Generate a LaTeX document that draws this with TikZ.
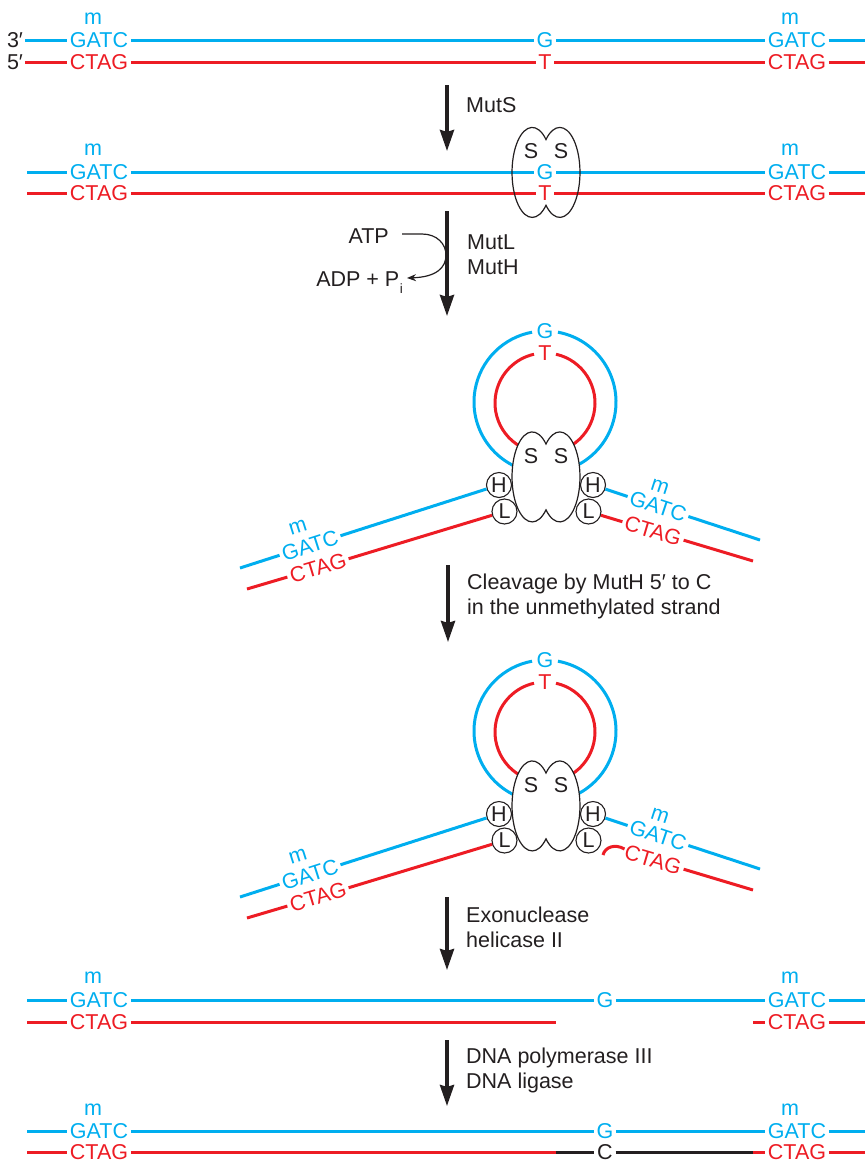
\documentclass[tikz,border=0pt]{standalone}
\usepackage{fontspec}
\setmainfont{Liberation Sans}
\usetikzlibrary{arrows.meta,calc}
\definecolor{dnablue}{RGB}{0,174,239}
\definecolor{dnared}{RGB}{237,28,36}
\definecolor{ink}{RGB}{35,31,32}

% mismatch loop held by MutS, with MutH/MutL on both arms (right red arm added separately)
\newcommand\mismatchloop{%
  \coordinate (loopc) at (545,402);
  \coordinate (loopr) at (545,403);
  \node[bt] (gl) at (545,331) {G};
  \node[rt] (tl) at (545,353) {T};
  \draw[strandB] ([shift={(-79.5:71)}]loopc) arc[start angle=-79.5, end angle=259.5, radius=71];
  \draw[strandR] ([shift={(-77.3:50)}]loopr) arc[start angle=-77.3, end angle=257.3, radius=50];
  \pic[protein, fill=white] at (546,477) {mutsdimer};
  \node[subunit] (hL) at (499,485) {H};
  \node[subunit] (lL) at (504.5,511.5) {L};
  \node[subunit] (hR) at (593,485) {H};
  \node[subunit] (lR) at (588.5,511.5) {L};
  % left arm
  \coordinate (bL) at (240,568);
  \coordinate (rL) at (247,589);
  \node[meth, rotate=17.5] (mL) at (298,527) {m};
  \node[bt, rotate=17.7] (gatcL) at (310,545.5) {GATC};
  \node[rt, rotate=16.6] (ctagL) at (318,568) {CTAG};
  \draw[strandB] (hL) -- (gatcL) -- (bL);
  \draw[strandR] (lL) -- (ctagL) -- (rL);
  % right arm
  \coordinate (bR) at (760,540);
  \coordinate (rR) at (753,561);
  \node[meth, rotate=-18] (mR) at (660,487) {m};
  \node[bt, rotate=-18.2] (gatcR) at (658,506.5) {GATC};
  \node[rt, rotate=-16.5] (ctagR) at (653,531) {CTAG};
  \draw[strandB] (hR) -- (gatcR) -- (bR);
}

\begin{document}
\begin{tikzpicture}[x=1pt,y=-1pt,
  every node/.style={font=\fontsize{21.5}{25}\selectfont, text=ink},
  strandB/.style={draw=dnablue, line width=3pt},
  strandR/.style={draw=dnared, line width=3pt},
  strandK/.style={draw=ink, line width=3pt},
  base/.style={inner sep=2.9pt, outer sep=0pt},
  bt/.style={base, text=dnablue},
  rt/.style={base, text=dnared},
  kt/.style={base, text=ink},
  meth/.style={text=dnablue, inner sep=0pt},
  stepdown/.style={draw=ink, line width=3.6pt, -{Stealth[length=21pt,width=14pt,inset=2pt]}},
  steplabel/.style={anchor=west, align=left, inner sep=0pt},
  protein/.style={draw=ink, line width=1.2pt},
  cofactor/.style={draw=ink, line width=1.2pt, -{Stealth[length=9pt,width=7pt]}},
  subunit/.style={circle, draw=ink, line width=1.1pt, fill=white, minimum size=25pt, inner sep=0pt},
  mutsdimer/.pic={
    \path[pic actions] (0,-33) arc[start angle=-47, end angle=-313, x radius=20.2, y radius=45]
      arc[start angle=133, end angle=-133, x radius=20.2, y radius=45] -- cycle;
    \node[inner sep=0pt] (-s1) at (-15,-21) {S};
    \node[inner sep=0pt] (-s2) at (15,-21) {S};
  }
]
\useasboundingbox (0,0) rectangle (865,1163);

% ---------- row 1: mismatched duplex ----------
\node[inner sep=2pt] (p3) at (15,40) {3′};
\node[inner sep=2pt] (p5) at (15,62) {5′};
\node[meth] (m1L) at (93,19) {m};
\node[bt] (g1L) at (99,40) {GATC};
\node[rt] (c1L) at (99,62) {CTAG};
\node[bt] (g1) at (545,40) {G};
\node[rt] (t1) at (545,62) {T};
\node[meth] (m1R) at (790,19) {m};
\node[bt] (g1R) at (797,40) {GATC};
\node[rt] (c1R) at (797,62) {CTAG};
\coordinate (b1e) at (865,40);
\coordinate (r1e) at (865,62);
\draw[strandB] (p3) -- (g1L) -- (g1) -- (g1R) -- (b1e);
\draw[strandR] (p5) -- (c1L) -- (t1) -- (c1R) -- (r1e);

% step 1
\coordinate (a1s) at (447,85);
\coordinate (a1e) at (447,151);
\draw[stepdown] (a1s) -- (a1e);
\node[steplabel] (l1) at (466,105) {MutS};

% ---------- row 2: MutS bound at the mismatch ----------
\coordinate (b2s) at (27,172);
\coordinate (r2s) at (27,193.5);
\coordinate (b2e) at (865,172);
\coordinate (r2e) at (865,193.5);
\node[meth] (m2L) at (93,150) {m};
\node[bt] (g2L) at (99,172) {GATC};
\node[rt] (c2L) at (99,193.5) {CTAG};
\node[bt] (g2) at (545,172) {G};
\node[rt] (t2) at (545,193.5) {T};
\node[meth] (m2R) at (790,150) {m};
\node[bt] (g2R) at (797,172) {GATC};
\node[rt] (c2R) at (797,193.5) {CTAG};
\draw[strandB] (b2s) -- (g2L) -- (g2) -- (g2R) -- (b2e);
\draw[strandR] (r2s) -- (c2L) -- (t2) -- (c2R) -- (r2e);
\pic[protein] (muts2) at (546,172.5) {mutsdimer};

% step 2
\coordinate (a2s) at (447,211);
\coordinate (a2e) at (447,316);
\draw[stepdown] (a2s) -- (a2e);
\node[steplabel] (l2) at (467,254.5) {MutL\\MutH};
\node[anchor=east, inner sep=0pt] (atp) at (389,236) {ATP};
\node[anchor=base east, inner sep=0pt] (adp) at (403,286)
  {ADP + P\kern0.5pt\raisebox{-7pt}{\fontsize{13.5}{13.5}\selectfont i}};
\coordinate (atpS) at (402,234);
\coordinate (adpE) at (407,278);
\draw[cofactor] (atpS) -- (422,234) .. controls (437,234) and (446,244) .. (446,255)
  .. controls (446,268) and (436,277) .. (adpE);

% ---------- row 3: loop complex ----------
\begin{scope}[name prefix=u-]
  \mismatchloop
  \draw[strandR] (lR) -- (ctagR) -- (rR);
\end{scope}

% step 3
\coordinate (a3s) at (448,565);
\coordinate (a3e) at (448,642);
\draw[stepdown] (a3s) -- (a3e);
\node[steplabel] (l3) at (467,596) {Cleavage by MutH 5′ to C\\in the unmethylated strand};

% ---------- row 4: nicked strand ----------
\begin{scope}[yshift=-329pt, name prefix=v-]
  \mismatchloop
  \coordinate (nick) at (603,526);
  \coordinate (nickE) at (624.5,520);
  \draw[strandR] (nick) .. controls (605,518) and (615,514.5) .. (nickE);
  \draw[strandR] (ctagR) -- (rR);
\end{scope}

% step 4
\coordinate (a4s) at (447,897);
\coordinate (a4e) at (447,970);
\draw[stepdown] (a4s) -- (a4e);
\node[steplabel] (l4) at (466,927) {Exonuclease\\helicase II};

% ---------- row 5: gapped duplex ----------
\coordinate (b6s) at (27,1000.5);
\coordinate (r6s) at (27,1022);
\coordinate (b6e) at (865,1000.5);
\coordinate (r6e) at (865,1022);
\coordinate (gap6a) at (556,1022);
\coordinate (gap6b) at (753,1022);
\node[meth] (m6L) at (93,978) {m};
\node[bt] (g6L) at (99,1000.5) {GATC};
\node[rt] (c6L) at (99,1022) {CTAG};
\node[bt] (g6) at (605,1000.5) {G};
\node[meth] (m6R) at (790,978) {m};
\node[bt] (g6R) at (797,1000.5) {GATC};
\node[rt] (c6R) at (797,1022) {CTAG};
\draw[strandB] (b6s) -- (g6L) -- (g6) -- (g6R) -- (b6e);
\draw[strandR] (r6s) -- (c6L) -- (gap6a);
\draw[strandR] (gap6b) -- (c6R) -- (r6e);

% step 5
\coordinate (a5s) at (447,1040);
\coordinate (a5e) at (447,1106);
\draw[stepdown] (a5s) -- (a5e);
\node[steplabel] (l5) at (466,1070) {DNA polymerase III\\DNA ligase};

% ---------- row 6: repaired duplex ----------
\coordinate (b7s) at (27,1131.5);
\coordinate (r7s) at (27,1152.5);
\coordinate (b7e) at (865,1131.5);
\coordinate (r7e) at (865,1152.5);
\coordinate (new7a) at (556,1152.5);
\coordinate (new7b) at (753,1152.5);
\node[meth] (m7L) at (93,1110) {m};
\node[bt] (g7L) at (99,1131.5) {GATC};
\node[rt, inner ysep=0.5pt] (c7L) at (99,1152.5) {CTAG};
\node[bt] (g7) at (605,1131.5) {G};
\node[kt, inner ysep=0.5pt] (c7) at (605,1152.5) {C};
\node[meth] (m7R) at (790,1110) {m};
\node[bt] (g7R) at (797,1131.5) {GATC};
\node[rt, inner ysep=0.5pt] (c7R) at (797,1152.5) {CTAG};
\draw[strandB] (b7s) -- (g7L) -- (g7) -- (g7R) -- (b7e);
\draw[strandR] (r7s) -- (c7L) -- (new7a);
\draw[strandK] (new7a) -- (c7) -- (new7b);
\draw[strandR] (new7b) -- (c7R) -- (r7e);
\end{tikzpicture}
\end{document}
